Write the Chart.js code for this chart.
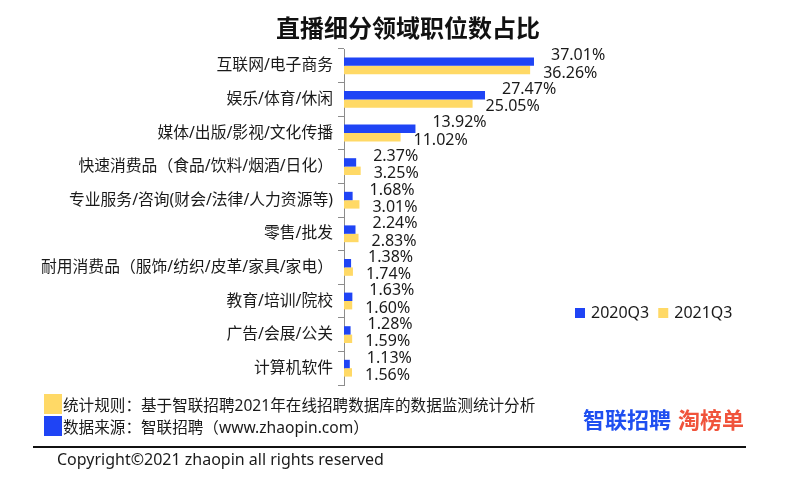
<!DOCTYPE html>
<html>
<head>
<meta charset="utf-8">
<script src="https://cdn.jsdelivr.net/npm/chart.js@4/dist/chart.umd.min.js"></script>
<style>
  body { margin: 0; background: #fff; font-family: "Noto Sans", "Noto Sans CJK SC", sans-serif; color: #1a1a1a; }
  #wrap { position: relative; width: 798px; height: 496px; overflow: hidden; }
  #chart { position: absolute; left: 0; top: 0; }
  .abs { position: absolute; white-space: nowrap; }
  .title { left: 0; width: 816px; text-align: center; top: 13px; font-size: 24px; line-height: 28px; font-weight: bold; color: #111; font-family: "Noto Sans CJK SC", sans-serif; }
  .note { left: 63px; font-size: 15.6px; line-height: 20px; }
  .sq { left: 44px; width: 18px; height: 20px; }
  .logo { font-size: 22px; line-height: 24px; font-weight: bold; font-family: "Noto Sans CJK SC", sans-serif; }
</style>
</head>
<body>
<div id="wrap">
  <canvas id="chart" width="798" height="400"></canvas>
  <div class="abs title">直播细分领域职位数占比</div>
  <div class="abs sq" style="top:394px; background:#FFD966;"></div>
  <div class="abs sq" style="top:416px; background:#1F44F5;"></div>
  <div class="abs note" style="top:395px;">统计规则：基于智联招聘2021年在线招聘数据库的数据监测统计分析</div>
  <div class="abs note" style="top:417px;">数据来源：智联招聘（www.zhaopin.com）</div>
  <div class="abs logo" style="left:583px; top:406px; color:#1F4FF0;">智联招聘</div>
  <div class="abs logo" style="left:678px; top:406px; color:#F0533B;">淘榜单</div>
  <div class="abs" style="left:33px; top:446px; width:713px; height:1.5px; background:#111;"></div>
  <div class="abs" style="left:57px; top:449px; font-size:16px; line-height:20px;">Copyright©2021 zhaopin all rights reserved</div>
</div>
<script>
// data
const categories = [
  '互联网/电子商务',
  '娱乐/体育/休闲',
  '媒体/出版/影视/文化传播',
  '快速消费品（食品/饮料/烟酒/日化）',
  '专业服务/咨询(财会/法律/人力资源等)',
  '零售/批发',
  '耐用消费品（服饰/纺织/皮革/家具/家电）',
  '教育/培训/院校',
  '广告/会展/公关',
  '计算机软件',
];
const seriesNames = ['2020Q3', '2021Q3'];
const values2020 = [37.01, 27.47, 13.92, 2.37, 1.68, 2.24, 1.38, 1.63, 1.28, 1.13];
const values2021 = [36.26, 25.05, 11.02, 3.25, 3.01, 2.83, 1.74, 1.60, 1.59, 1.56];

const BLUE = '#1F44F5';
const YELLOW = '#FFD966';
const FONT = '"Noto Sans", "Noto Sans CJK SC", sans-serif';

// value labels next to each bar
const valueLabels = {
  id: 'valueLabels',
  afterDatasetsDraw(chart) {
    const ctx = chart.ctx;
    ctx.save();
    ctx.font = '16px ' + FONT;
    ctx.fillStyle = '#1a1a1a';
    ctx.textAlign = 'left';
    ctx.textBaseline = 'middle';
    chart.data.datasets.forEach((ds, di) => {
      chart.getDatasetMeta(di).data.forEach((bar, i) => {
        const dx = di === 0 ? 17 : 13;
        const dy = di === 0 ? -6 : 3;
        ctx.fillText(ds.data[i].toFixed(2) + '%', bar.x + dx, bar.y + dy);
      });
    });
    ctx.restore();
  }
};

// legend in one row, placed to the right of the bars
const rowLegend = {
  id: 'rowLegend',
  afterDraw(chart) {
    const ctx = chart.ctx;
    ctx.save();
    ctx.font = '16px ' + FONT;
    ctx.textBaseline = 'middle';
    let x = 575;
    const y = 313;
    chart.data.datasets.forEach(ds => {
      ctx.fillStyle = ds.backgroundColor;
      ctx.fillRect(x, y - 5, 10, 10);
      ctx.fillStyle = '#1a1a1a';
      ctx.fillText(ds.label, x + 16, y);
      x += 16 + ctx.measureText(ds.label).width + 9;
    });
    ctx.restore();
  }
};

new Chart(document.getElementById('chart'), {
  type: 'bar',
  data: {
    labels: categories,
    datasets: [
      { label: seriesNames[0], data: values2020, backgroundColor: BLUE },
      { label: seriesNames[1], data: values2021, backgroundColor: YELLOW },
    ]
  },
  options: {
    indexAxis: 'y',
    responsive: false,
    animation: false,
    devicePixelRatio: 1,
    categoryPercentage: 0.5,
    barPercentage: 1.0,
    layout: { padding: { top: 49, bottom: 15, left: 0, right: 223 } },
    plugins: {
      legend: { display: false },
      tooltip: { enabled: false },
    },
    scales: {
      x: { display: false, min: 0, max: 45 },
      y: {
        afterFit: (axis) => { axis.width = 344; },
        border: { display: true, color: '#8c8c8c', width: 1 },
        grid: { drawOnChartArea: false, drawTicks: true, tickLength: 6, color: '#8c8c8c', offset: true },
        ticks: { color: '#1a1a1a', padding: 5, font: { size: 15.8, family: FONT } },
      }
    }
  },
  plugins: [valueLabels, rowLegend]
});
</script>
</body>
</html>
